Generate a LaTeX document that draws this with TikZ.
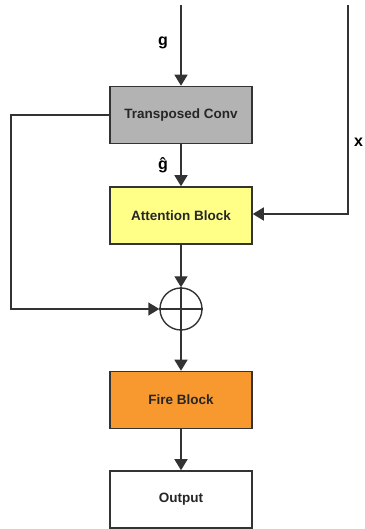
\documentclass[tikz,border=0pt]{standalone}
\usepackage{fontspec}
\setmainfont{Liberation Sans}
\usetikzlibrary{arrows.meta}
\definecolor{linec}{HTML}{333333}
\definecolor{grayfill}{HTML}{B3B3B3}
\definecolor{yellowfill}{HTML}{FFFF88}
\definecolor{orangefill}{HTML}{F7992F}
\begin{document}
\begin{tikzpicture}[x=1pt,y=1pt,
  blockbox/.style={draw=linec,line width=1.5pt,minimum width=142pt,minimum height=57pt,inner sep=0pt,
    font=\fontsize{13.5}{15}\selectfont\bfseries,text=black!85},
  conn/.style={draw=linec,line width=1.4pt,-{Triangle[width=13pt,length=11pt]}},
  plain/.style={draw=linec,line width=1.4pt},
  lbl/.style={font=\fontsize{16}{18}\selectfont\bfseries,inner sep=0pt}]
\useasboundingbox (0,0) rectangle (364,529);
\node[blockbox,fill=grayfill] (tc) at (181,414) {Transposed Conv};
\node[blockbox,fill=yellowfill] (att) at (181,313.5) {Attention Block};
\node[draw=linec,line width=1.4pt,circle,minimum size=42pt,inner sep=0pt] (sum) at (181,220) {};
\draw[plain] (sum.north) -- (sum.south) (sum.west) -- (sum.east);
\node[blockbox,fill=orangefill] (fire) at (181,129) {Fire Block};
\node[blockbox,fill=white] (out) at (181,29.5) {Output};
\coordinate (gin) at (181,524);
\coordinate (xin) at (348,524);
\coordinate (xc) at (348,315);
\coordinate (lc) at (11,0);
\draw[conn] (gin) -- (tc.north);
\draw[conn] (tc.south) -- (att.north);
\draw[conn] (xin) -- (xc) -- (att.east |- xc);
\draw[conn] (tc.west) -- (tc.west -| lc) -- (lc |- sum.west) -- (sum.west);
\draw[conn] (att.south) -- (sum.north);
\draw[conn] (sum.south) -- (fire.north);
\draw[conn] (fire.south) -- (out.north);
\node[lbl] (lg) at (163,486) {g};
\node[lbl] (lgh) at (163,364) {ĝ};
\node[lbl,anchor=west] (lx) at (354,387) {x};
\end{tikzpicture}
\end{document}
